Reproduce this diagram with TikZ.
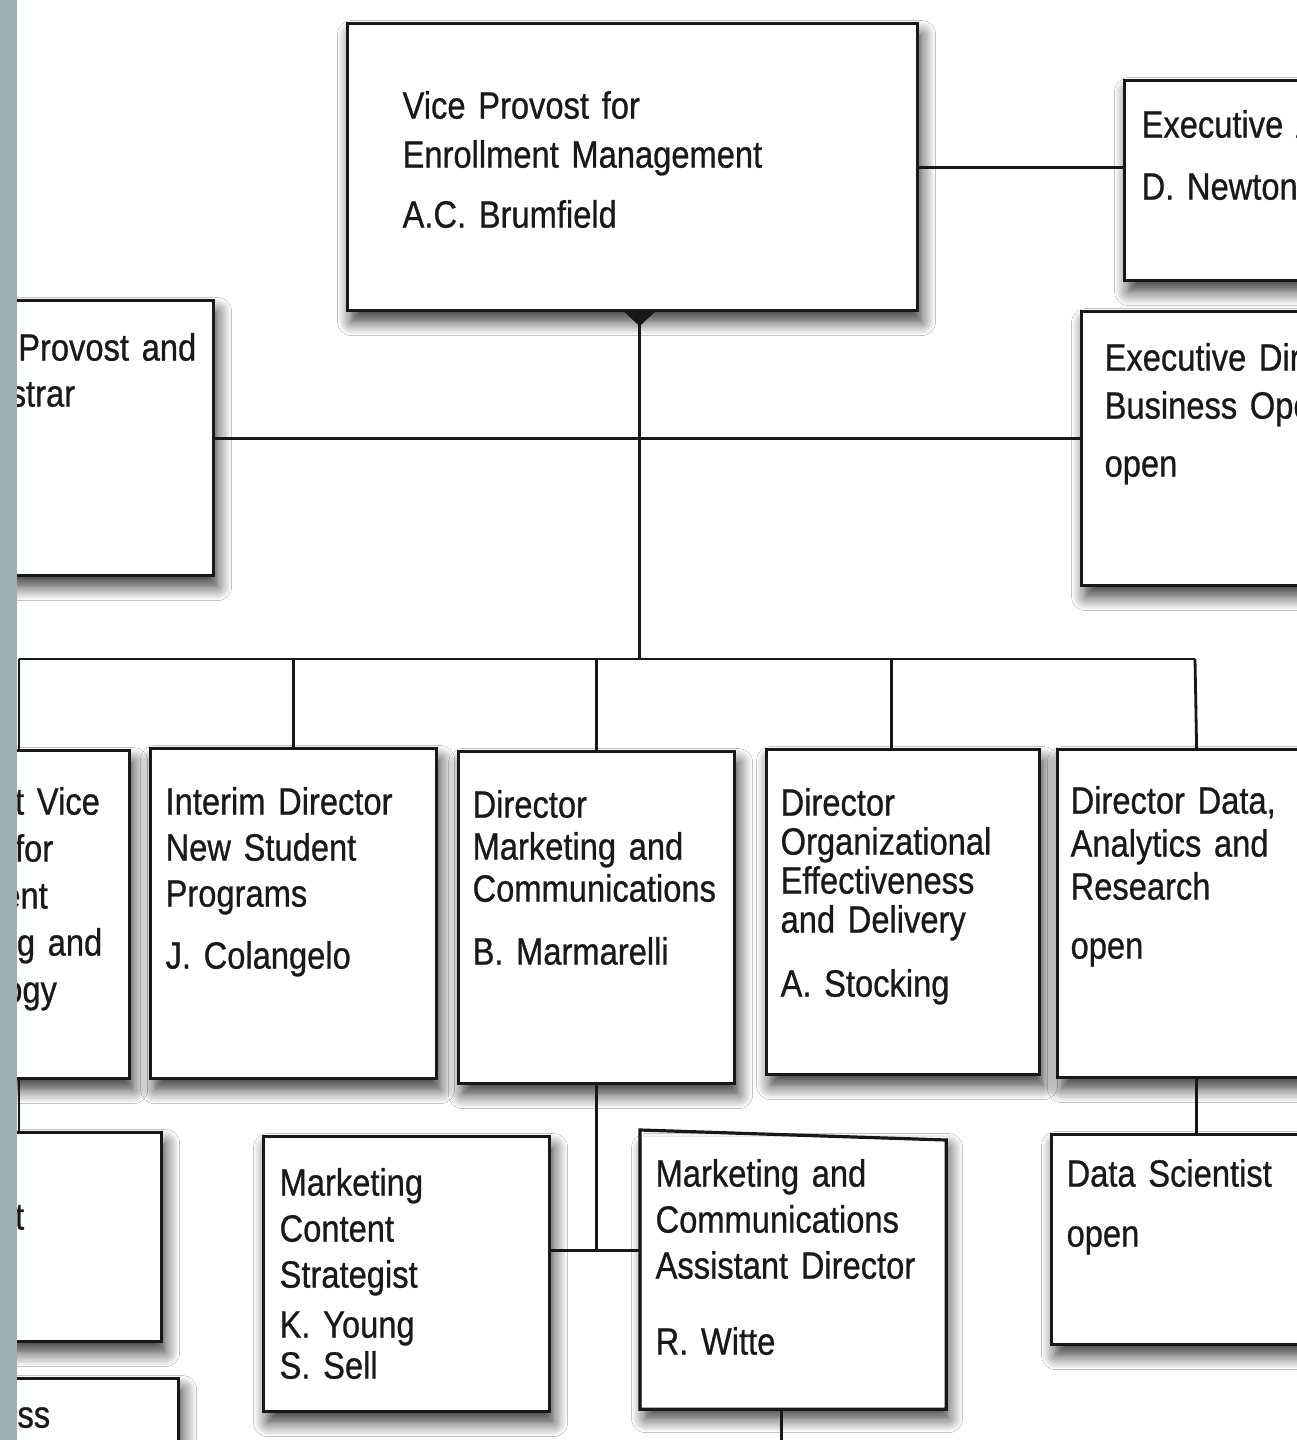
\documentclass[tikz,border=0pt]{standalone}
\usepackage{fontspec}
\setmainfont{Liberation Sans}[FakeStretch=0.86, FakeBold=0.7, WordSpace=0.8]
\usepackage{xcolor}
\usetikzlibrary{shadows.blur}
\definecolor{edge}{RGB}{24,24,24}
\definecolor{frame}{RGB}{155,175,181}

\begin{document}
\begin{tikzpicture}[
  x=1pt, y=-1pt,
  box/.style={draw=edge, line width=3.2pt, fill=white, anchor=north west,
              align=left, inner ysep=0pt, text=black!90,
              font=\fontsize{38}{46}\selectfont,
              blur shadow={shadow xshift=4pt, shadow yshift=-11pt,
                           shadow blur radius=14pt, shadow blur steps=12,
                           shadow opacity=80}},
  link/.style={draw=edge, line width=2.8pt}
]
\useasboundingbox (0,0) rectangle (1297,1440);
\clip (0,0) rectangle (1297,1440);
\fill[white] (0,0) rectangle (1297,1440);

\node[box, inner xsep=55pt, text width=460pt, text height=95pt, text depth=192pt,
      font=\fontsize{38}{49}\selectfont] (vp) at (346,22)
  {Vice Provost for\\Enrollment Management\\[11pt]A.C. Brumfield};
\node[box, inner xsep=17pt, text width=343pt, text height=57pt, text depth=143pt] (ea) at (1123,79)
  {Executive Assistant\\[16pt]D. Newton};
\node[box, inner xsep=23pt, text width=374pt, text height=59pt, text depth=215pt,
      font=\fontsize{38}{48}\selectfont] (ed) at (1080,310)
  {Executive Director,\\Business Operations\\[10pt]open};
\node[box, inner xsep=10pt, text width=261pt, text height=60pt, text depth=215pt] (lr) at (-69,299)
  {Vice Provost and\\Registrar};

\node[box, inner xsep=15pt, text width=223pt, text height=64pt, text depth=264pt,
      font=\fontsize{38}{47}\selectfont] (ias) at (-125,749)
  {Assistant Vice\\Provost for\\Enrollment\\Marketing and\\Technology};
\node[box, inner xsep=15pt, text width=256pt, text height=66pt, text depth=264pt] (nsp) at (149,747)
  {Interim Director\\New Student\\Programs\\[16pt]J. Colangelo};
\node[box, inner xsep=14pt, text width=248pt, text height=66pt, text depth=266pt,
      font=\fontsize{38}{42}\selectfont] (mc) at (457,750)
  {Director\\Marketing and\\Communications\\[21pt]B. Marmarelli};
\node[box, inner xsep=14pt, text width=245pt, text height=66pt, text depth=259pt,
      font=\fontsize{38}{39}\selectfont] (oed) at (765,748)
  {Director\\Organizational\\Effectiveness\\and Delivery\\[25pt]A. Stocking};
\node[box, inner xsep=13pt, text width=252pt, text height=64pt, text depth=264pt,
      font=\fontsize{38}{43}\selectfont] (dar) at (1056,748)
  {Director Data,\\Analytics and\\Research\\[16pt]open};

\node[box, inner xsep=20pt, text width=250pt, text height=97pt, text depth=112pt] (lla) at (-130,1131)
  {Assistant};
\node[box, inner xsep=26pt, text width=235pt, text height=49pt, text depth=74pt] (llb) at (-110,1377)
  {Business};
\node[box, inner xsep=16pt, text width=254pt, text height=59pt, text depth=216pt] (mcs) at (262,1135)
  {Marketing\\Content\\Strategist\\[4pt]K. Young\\[-5pt]S. Sell};
\node[box, draw=none, inner xsep=14pt, text width=275pt, text height=50pt, text depth=221pt] (mcad) at (640,1135)
  {Marketing and\\Communications\\Assistant Director\\[30pt]R. Witte};
\draw[edge, line width=3.2pt] ([yshift=5pt]mcad.north west) -- ([yshift=-5pt]mcad.north east)
  -- (mcad.south east) -- (mcad.south west) -- cycle;
\node[box, inner xsep=15pt, text width=260pt, text height=52pt, text depth=158pt] (ds) at (1050,1133)
  {Data Scientist\\[14pt]open};

\coordinate (busL) at (19,659);
\coordinate (busR) at (1195,659);
\coordinate (hub) at ([xshift=7pt]vp.south);
\path (mc.south) ++(0,165) coordinate (mtee);

\path[link] (vp.east) -- (vp.east -| ea.west);
\path[link] (lr.east) -- (lr.east -| ed.west);
\path[link] (hub) -- (hub |- busL);
\fill[edge] (hub) ++(-15,0) -- ++(30,0) -- ++(-15,14) -- cycle;
\path[link] (busL) -- (busR);
\path[link] (ias.north -| busL) -- (busL);
\path[link] (nsp.north) -- (nsp.north |- busL);
\path[link] (mc.north) -- (mc.north |- busL);
\path[link] ([xshift=-12pt]oed.north) -- ([xshift=-12pt]oed.north |- busL);
\path[link] (dar.north) -- (busR);
\path[link] (ias.south -| busL) -- (lla.north -| busL);
\path[link] (dar.south) -- (ds.north);
\path[link] (mc.south) -- (mtee);
\path[link] (mcs.east |- mtee) -- (mcad.west |- mtee);
\path[link] ([xshift=-12pt]mcad.south) -- ++(0,60);

\fill[frame] (0,0) rectangle (17,1440);
\end{tikzpicture}
\end{document}
